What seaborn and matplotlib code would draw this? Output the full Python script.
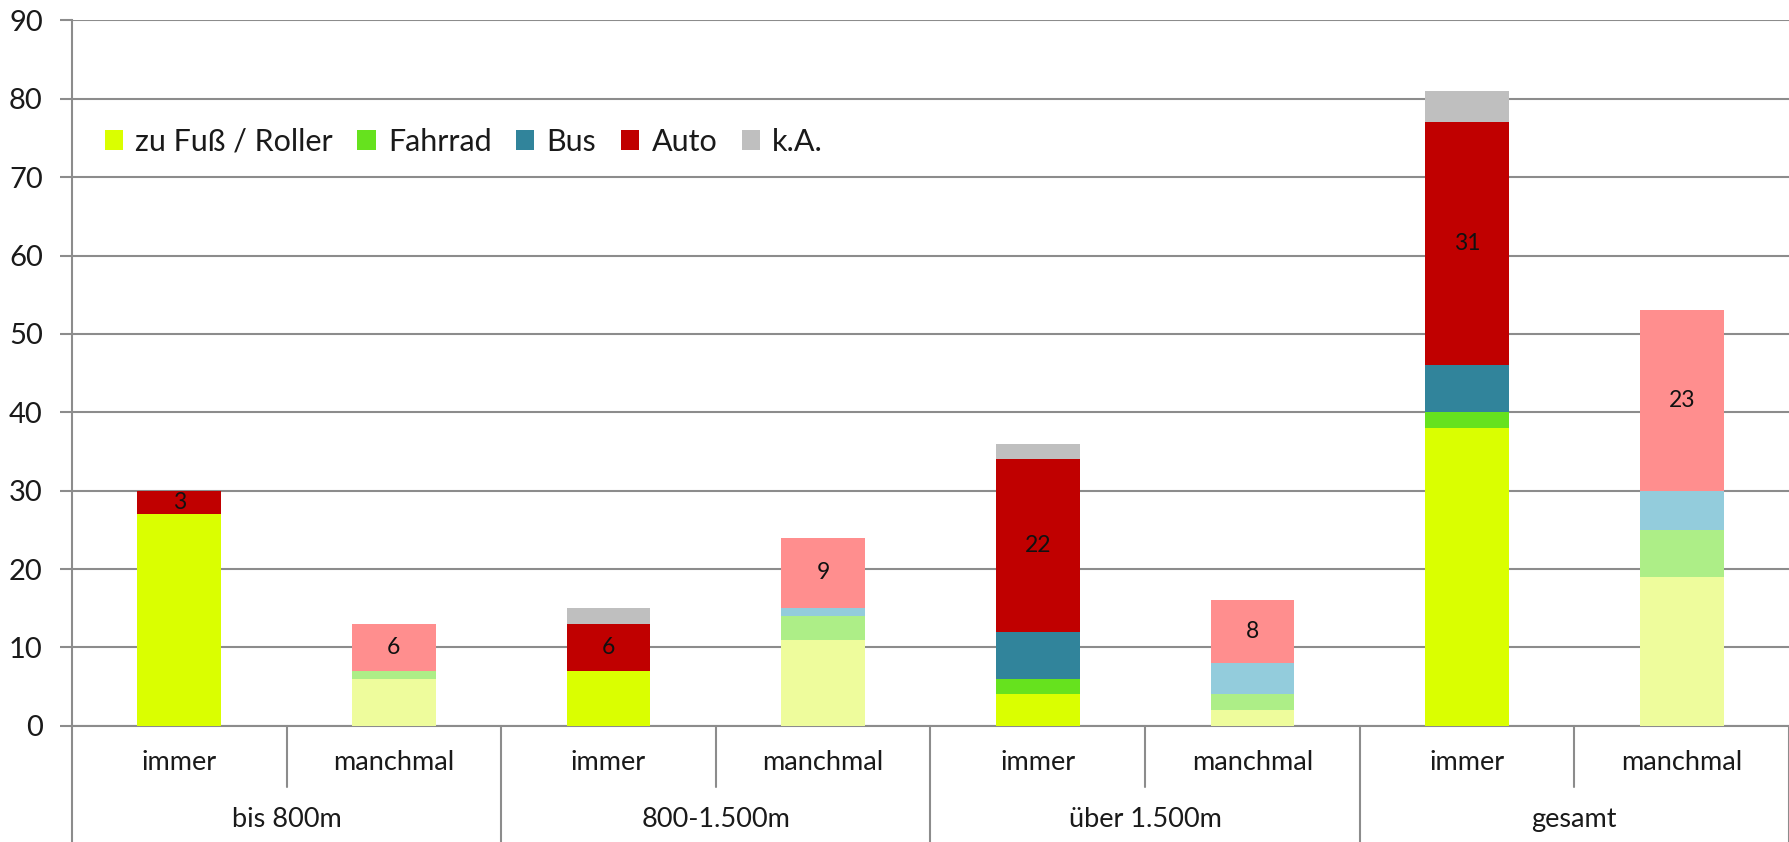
import numpy as np
import pandas as pd
import matplotlib
matplotlib.use("Agg")
import matplotlib.pyplot as plt
from matplotlib.patches import Patch
from matplotlib.transforms import blended_transform_factory
import seaborn as sns

# ---- data -------------------------------------------------------------
groups = ["bis 800m", "800-1.500m", "über 1.500m", "gesamt"]
kinds = ["immer", "manchmal"]
modes = ["zu Fuß / Roller", "Fahrrad", "Bus", "Auto", "k.A."]

# values per bar, order: bis800 immer, bis800 manchmal, 800-1500 immer, ...
fuss    = [27, 6, 7, 11, 4, 2, 38, 19]
fahrrad = [0, 1, 0, 3, 2, 2, 2, 6]
bus     = [0, 0, 0, 1, 6, 4, 6, 5]
auto    = [3, 6, 6, 9, 22, 8, 31, 23]
ka      = [0, 0, 2, 0, 2, 0, 4, 0]

yticks = [0, 10, 20, 30, 40, 50, 60, 70, 80, 90]

# colours: strong tone for "immer", pale tone for "manchmal"
strong = ["#DAFF00", "#66E21E", "#31849B", "#C00000", "#BFBFBF"]
pale   = ["#EEFC9C", "#ADEE87", "#93CCDC", "#FF8E8E", "#DDDDDD"]

# ---- figure -----------------------------------------------------------
sns.set_theme(style="white")
plt.rcParams["font.family"] = ["Lato", "DejaVu Sans"]

fig = plt.figure(figsize=(17.89, 8.42), dpi=100)
ax = fig.add_axes([0.0402, 0.138, 0.9598, 0.8377])

n = len(fuss)
bar_ids = [f"{groups[i // 2]} | {kinds[i % 2]}" for i in range(n)]
layers = [fuss, fahrrad, bus, auto, ka]
cum = np.cumsum(np.array(layers, dtype=float), axis=0)

# stacked bars: draw cumulative totals from the top layer downwards
for li in range(len(layers) - 1, -1, -1):
    df = pd.DataFrame({"bar": bar_ids, "value": cum[li]})
    pal = {bar_ids[i]: (strong[li] if i % 2 == 0 else pale[li]) for i in range(n)}
    sns.barplot(data=df, x="bar", y="value", hue="bar", palette=pal,
                order=bar_ids, hue_order=bar_ids, legend=False,
                width=0.39, saturation=1, linewidth=0, ax=ax, zorder=3)

# value labels on the "Auto" segments
for i in range(n):
    lo = cum[2][i]
    hi = cum[3][i]
    ax.text(i, (lo + hi) / 2, str(auto[i]), ha="center", va="center",
            fontsize=16.5, color="#111111", zorder=5)

# ---- axes styling -----------------------------------------------------
grid_c = "#8C8C8C"
text_c = "#1A1A1A"
ax.set_ylim(0, 90)
ax.set_xlim(-0.5, n - 0.5)
ax.set_yticks(yticks)
ax.set_yticklabels([str(t) for t in yticks], fontsize=21, color=text_c)
ax.yaxis.grid(True, color=grid_c, linewidth=1.5, zorder=0)
ax.set_axisbelow(True)
ax.tick_params(axis="y", length=9, width=1.5, color=grid_c, pad=12, left=True)
ax.set_xticks([])
ax.set_xlabel("")
ax.set_ylabel("")
for s in ["top", "right"]:
    ax.spines[s].set_visible(False)
ax.spines["left"].set_color(grid_c)
ax.spines["left"].set_linewidth(1.5)
ax.spines["bottom"].set_color(grid_c)
ax.spines["bottom"].set_linewidth(1.5)

# two-level category axis below the plot
tr = blended_transform_factory(ax.transData, fig.transFigure)
y_axis = 0.138
for i in range(n):
    ax.text(i, 0.095, kinds[i % 2], transform=tr, ha="center", va="center",
            fontsize=19.5, color=text_c)
for g in range(len(groups)):
    ax.text(2 * g + 0.5, 0.027, groups[g], transform=tr, ha="center",
            va="center", fontsize=19.5, color=text_c)
for k in range(n + 1):
    xk = k - 0.5
    y_end = 0.0 if k % 2 == 0 else 0.065
    ax.plot([xk, xk], [y_axis, y_end], transform=tr, color=grid_c,
            linewidth=1.5, clip_on=False, zorder=1)

# legend
handles = [Patch(facecolor=c, edgecolor="none") for c in strong]
leg = ax.legend(handles, modes, ncol=5, loc="center left",
                bbox_to_anchor=(0.012, 0.828), frameon=False, fontsize=22,
                handlelength=0.6, handleheight=0.6, handletextpad=0.4,
                columnspacing=0.8, borderaxespad=0)
for t in leg.get_texts():
    t.set_color(text_c)

fig.savefig("out.png", dpi=100, facecolor="white")
